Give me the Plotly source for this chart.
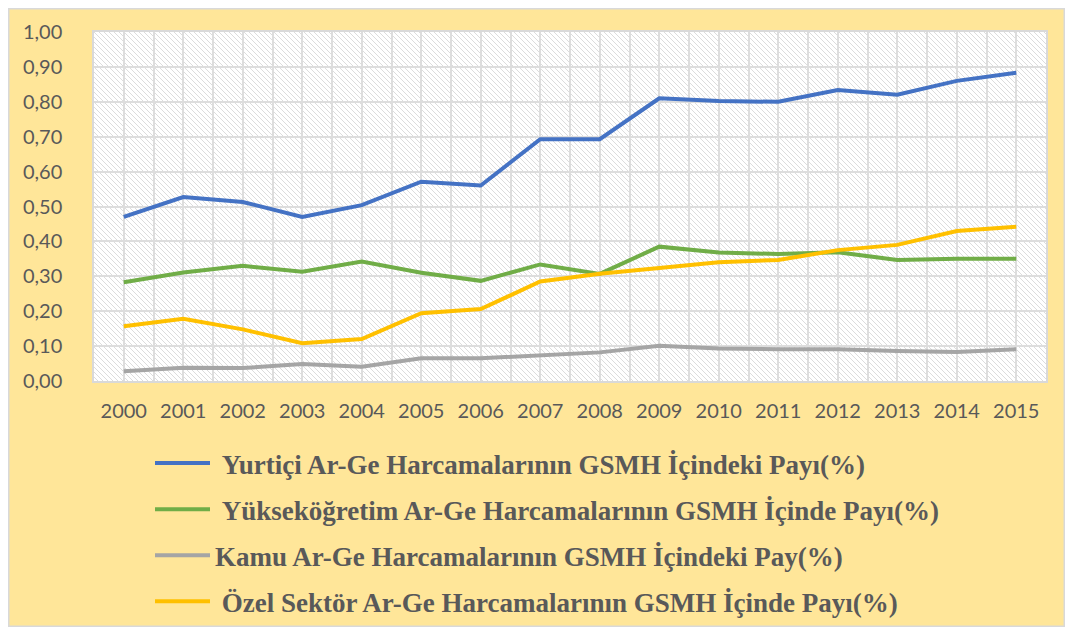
import plotly.graph_objects as go
import base64

years = list(range(2000, 2016))
yurtici = [0.47, 0.527, 0.513, 0.47, 0.504, 0.571, 0.56, 0.693, 0.693, 0.81, 0.802, 0.80, 0.834, 0.82, 0.86, 0.883]
yuksekogretim = [0.283, 0.311, 0.33, 0.313, 0.342, 0.31, 0.287, 0.334, 0.307, 0.385, 0.368, 0.364, 0.369, 0.347, 0.35, 0.35]
kamu = [0.028, 0.038, 0.037, 0.049, 0.041, 0.065, 0.065, 0.074, 0.082, 0.101, 0.093, 0.091, 0.091, 0.086, 0.083, 0.091]
ozel = [0.157, 0.178, 0.148, 0.108, 0.12, 0.194, 0.206, 0.285, 0.307, 0.323, 0.34, 0.347, 0.375, 0.39, 0.43, 0.442]

names = [
    "\u00a0Yurtiçi Ar-Ge Harcamalarının GSMH İçindeki Payı(%)",
    "\u00a0Yükseköğretim Ar-Ge Harcamalarının GSMH İçinde Payı(%)",
    "Kamu Ar-Ge Harcamalarının GSMH İçindeki Pay(%)",
    "\u00a0Özel Sektör Ar-Ge Harcamalarının GSMH İçinde Payı(%)",
]
series = [yurtici, yuksekogretim, kamu, ozel]
colors = ["#4472C4", "#70AD47", "#A5A5A5", "#FFC000"]

fig = go.Figure()
for i, (nm, vals, col) in enumerate(zip(names, series, colors)):
    fig.add_trace(go.Scatter(
        x=years, y=vals, mode="lines", name=nm,
        line=dict(color=col, width=4),
        legendgroup=f"g{i}",
    ))

# hatch texture for plot background
svg = ('<svg xmlns="http://www.w3.org/2000/svg" width="952" height="349">'
       '<defs><pattern id="h" width="5" height="5" patternUnits="userSpaceOnUse">'
       '<rect width="5" height="5" fill="#ffffff"/>'
       '<path d="M-1,-1 L6,6 M-1,4 L1,6 M4,-1 L6,1" stroke="#dcdcdc" stroke-width="1"/>'
       '</pattern></defs><rect width="952" height="349" fill="url(#h)"/></svg>')
src = "data:image/svg+xml;base64," + base64.b64encode(svg.encode()).decode()

# page has an 8px body margin, so figure coordinates are page - 8;
# figure sized to fit the window without scrollbars
W, H = 1057, 619
L, R, T, B = 86, 1038, 24, 373
pw, ph = R - L, B - T

fig.add_layout_image(dict(source=src, xref="paper", yref="paper", x=0, y=1,
                          sizex=1, sizey=1, sizing="stretch", layer="below"))

# thin chart-area frame
fig.add_shape(type="rect", xref="paper", yref="paper", layer="above",
              x0=(0.75 - L) / pw, x1=(W - 0.75 - L) / pw,
              y0=(B - (H - 0.75)) / ph, y1=(B - 0.75) / ph,
              fillcolor="rgba(0,0,0,0)", line=dict(color="#D9D9D9", width=1.5))

tickfont = dict(family="Lato", size=20, color="#595959")

fig.update_layout(
    width=W, height=H,
    margin=dict(l=L, r=W - R, t=T, b=H - B, autoexpand=False),
    paper_bgcolor="#FFE699",
    plot_bgcolor="white",
    separators=", ",
    showlegend=True,
    legend=dict(
        xref="container", yref="container",
        x=142 / W, y=1 - 431 / H, xanchor="left", yanchor="top",
        font=dict(family="Liberation Serif", size=27, color="#595959", weight="bold"),
        bgcolor="rgba(0,0,0,0)",
        tracegroupgap=8,
        itemwidth=55,
    ),
    xaxis=dict(
        range=[1999.5, 2015.5], tick0=2000, dtick=1,
        showgrid=True, gridcolor="#DDDDDD", gridwidth=1.5,
        minor=dict(dtick=0.5, tick0=1999.5, showgrid=True, gridcolor="#DDDDDD", gridwidth=1.5),
        showline=True, mirror=True, linecolor="#D9D9D9", linewidth=1.5,
        tickfont=tickfont, ticks="", ticklabelstandoff=11,
        zeroline=False,
    ),
    yaxis=dict(
        range=[0, 1], dtick=0.1, tickformat=".2f",
        showgrid=True, gridcolor="#DDDDDD", gridwidth=1.5,
        showline=True, mirror=True, linecolor="#D9D9D9", linewidth=1.5,
        tickfont=tickfont, ticks="", ticklabelstandoff=26,
        zeroline=False,
    ),
)

fig.write_html("out.html")
